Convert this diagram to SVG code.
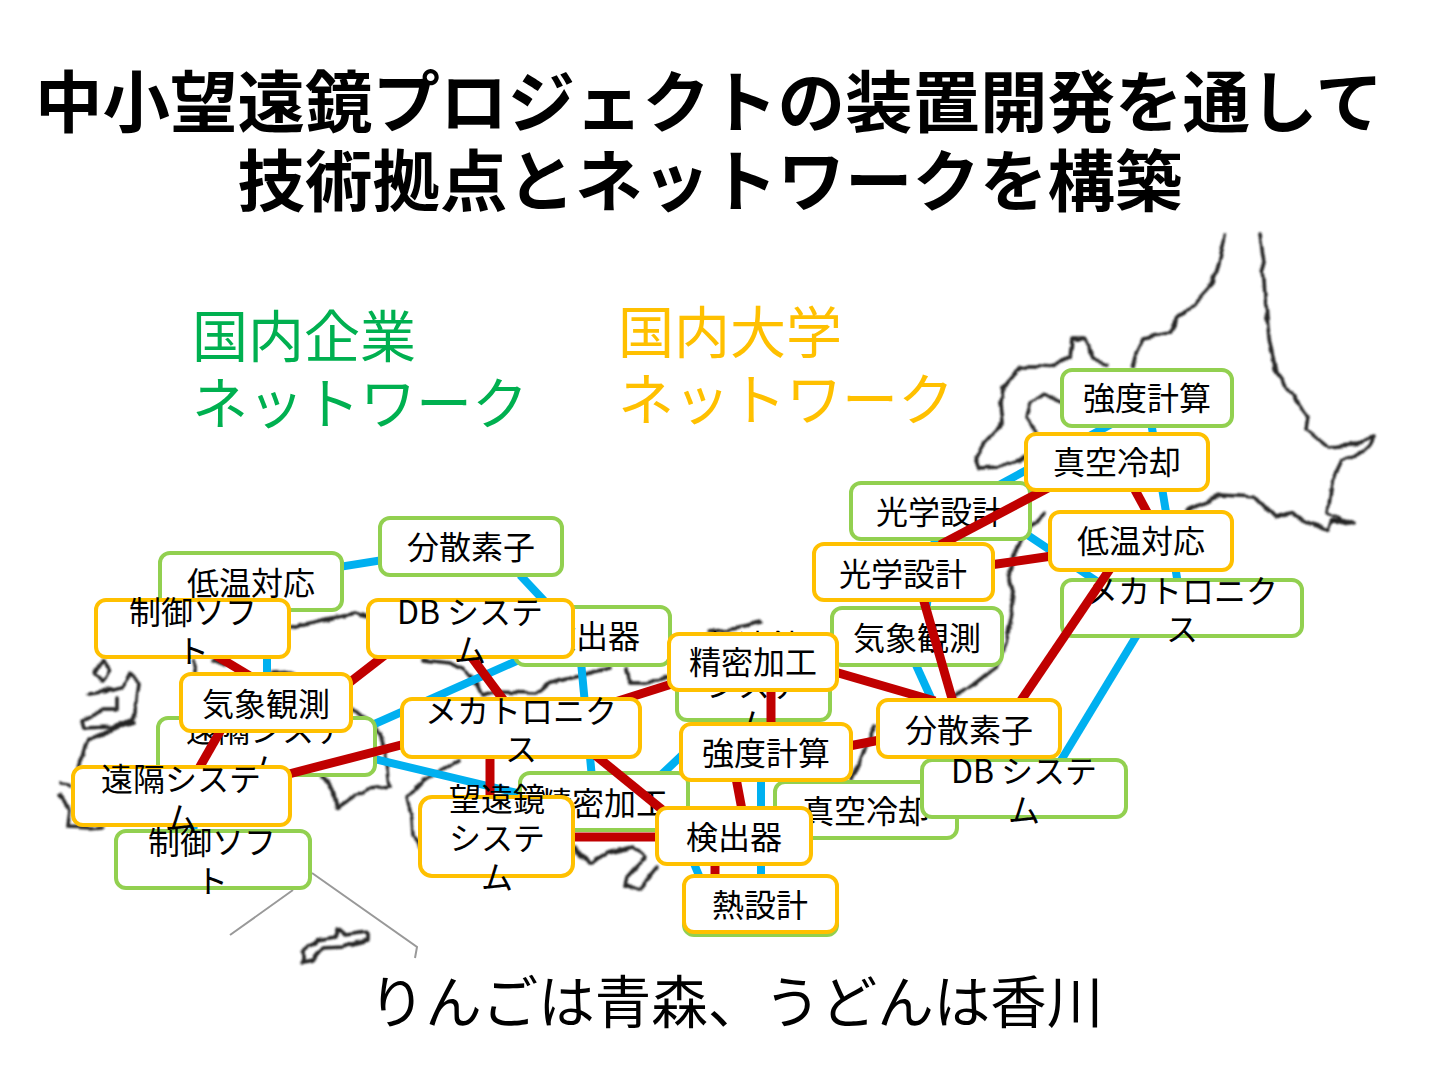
<svg xmlns="http://www.w3.org/2000/svg" width="1440" height="1080" viewBox="0 0 1440 1080">
<defs><filter id="soft" filterUnits="userSpaceOnUse" x="0" y="200" width="1440" height="800"><feTurbulence type="fractalNoise" baseFrequency="0.06" numOctaves="2" seed="7" result="n"/><feDisplacementMap in="SourceGraphic" in2="n" scale="7" xChannelSelector="R" yChannelSelector="G"/><feGaussianBlur stdDeviation="0.9"/></filter></defs>
<style>
text{font-family:"Noto Sans CJK JP","Noto Sans",sans-serif;text-anchor:middle;fill:#000}
.title{font-size:67.5px;font-weight:700}
.big{font-size:56px}
.low{font-size:56.5px}
.g{fill:#00b050;text-anchor:start}
.o{fill:#ffc000;text-anchor:start}
.n{font-size:32px}
.bg rect{fill:#fff;stroke:#92d050;stroke-width:4}
.og rect{fill:#fff;stroke:#ffc000;stroke-width:4}
#map path{fill:none;stroke:#222;stroke-width:3.5;stroke-linejoin:round;stroke-linecap:round}
.blue line{stroke:#00b0f0;stroke-width:8}
.red line{stroke:#c00000;stroke-width:9}
</style>
<rect width="1440" height="1080" fill="#fff"/>
<g id="map" filter="url(#soft)">
<path d="M1225 235L1219 263L1213 283L1198 300L1179 317L1169 333L1144 338L1137 353L1133 367"/>
<path d="M1106 365L1095 360L1085 338L1072 338L1070 358L1045 367L1020 367L1003 387L1001 403L1003 423L984 443L976 457L980 468L999 467L1026 458"/>
<path d="M1064 403L1045 395L1030 403L1026 417L1037 433"/>
<path d="M1259 235L1263 263L1265 297L1269 337L1276 373L1294 397L1309 417L1307 430L1328 447L1351 445L1374 437L1370 447L1343 460L1332 483L1328 513L1353 525L1332 520L1328 530L1305 520L1290 513L1275 517L1255 497L1221 495L1187 510"/>
<path d="M1045 513L1030 527L1014 553L1008 580L1014 603L1006 643L996 667L969 688L953 697"/>
<path d="M875 727L863 753L851 780"/>
<path d="M708 632L740 628L761 623"/>
<path d="M103 660L95 673L103 683L110 670Z"/>
<path d="M87 693L110 690L123 687L130 673L140 683L137 707L132 720L110 727L85 728L83 720L103 710L117 710L117 698"/>
<path d="M133 723L110 730L88 740L80 760L78 770"/>
<path d="M60 782L70 787M60 795L70 810L68 827L90 828L103 827"/>
<path d="M291 627L337 617L356 613L368 617"/>
<path d="M194 660L194 673M213 660L225 665M273 673L293 672"/>
<path d="M423 660L450 663L463 670L477 685L482 695L493 692L537 693L550 682L580 675L610 668M627 670L630 683L647 683L669 675"/>
<path d="M353 708L365 718L380 733L385 750L388 770L390 787L370 790L353 797L337 808L333 790L323 777"/>
<path d="M457 762L423 780L407 797L412 820L413 837L420 847"/>
<path d="M573 847L590 863L607 853L633 847L645 857L627 877L625 887L640 888L657 867"/>
<path d="M302 962L302 952L317 940L337 937L337 928L345 935L368 932L368 940L343 947L323 948L313 960Z"/>
</g>
<g id="inset-lines"><path d="M230 935L293 890M312 873L417 947L415 958" fill="none" stroke="#999" stroke-width="2"/></g>
<g id="labels">
<text class="title" x="709" y="127">中小望遠鏡プロジェクトの装置開発を通して</text>
<text class="title" x="710" y="206">技術拠点とネットワークを構築</text>
<text class="big g" x="192" y="357">国内企業</text>
<text class="big g" x="192" y="424">ネットワーク</text>
<text class="big o" x="618" y="353">国内大学</text>
<text class="big o" x="618" y="420">ネットワーク</text>
<text class="low" x="736" y="1023">りんごは青森、うどんは香川</text>
</g>
<g id="connectors-blue" class="blue">
<line x1="251" y1="581" x2="471" y2="546"/>
<line x1="520" y1="575" x2="550" y2="607"/>
<line x1="267" y1="610" x2="267" y2="718"/>
<line x1="530" y1="655" x2="370" y2="726"/>
<line x1="370" y1="758" x2="530" y2="796"/>
<line x1="581" y1="662" x2="592" y2="778"/>
<line x1="660" y1="776" x2="754" y2="687"/>
<line x1="761" y1="720" x2="761" y2="880"/>
<line x1="680" y1="830" x2="700" y2="878"/>
<line x1="916" y1="665" x2="950" y2="740"/>
<line x1="1060" y1="762" x2="1140" y2="630"/>
<line x1="1147" y1="398" x2="1182" y2="608"/>
<line x1="1130" y1="414" x2="940" y2="517"/>
<line x1="1020" y1="530" x2="1110" y2="590"/>
<line x1="936" y1="530" x2="925" y2="620"/>
<line x1="198" y1="770" x2="193" y2="835"/>
</g>
<g id="green-nodes" class="bg">
<g id="g-kyodo"><rect x="1062" y="370" width="170" height="56" rx="10"/><text class="n" x="1147" y="410">強度計算</text></g>
<g id="g-kogaku"><rect x="851" y="483" width="179" height="56" rx="10"/><text class="n" x="940" y="524">光学設計</text></g>
<g id="g-bunsan"><rect x="380" y="518" width="182" height="57" rx="10"/><text class="n" x="471" y="559">分散素子</text></g>
<g id="g-teion"><rect x="160" y="553" width="182" height="57" rx="10"/><text class="n" x="251" y="595">低温対応</text></g>
<g id="g-meka"><rect x="1062" y="580" width="240" height="56" rx="10"/><text class="n" x="1182" y="603">メカトロニク</text><text class="n" x="1182" y="641">ス</text></g>
<g id="g-kenshutsu"><rect x="515" y="607" width="155" height="58" rx="10"/><text class="n" x="592" y="648">検出器</text></g>
<g id="g-kisho"><rect x="832" y="608" width="170" height="57" rx="10"/><text class="n" x="917" y="650">気象観測</text></g>
<g id="g-bouenkyo"><rect x="677" y="654" width="153" height="66" rx="10"/><text class="n" x="754" y="658">望遠鏡</text><text class="n" x="754" y="697">システ</text><text class="n" x="754" y="736">ム</text></g>
<g id="g-enkaku"><rect x="158" y="718" width="217" height="57" rx="10"/><text class="n" x="266" y="742">遠隔システ</text><text class="n" x="266" y="781">ム</text></g>
<g id="g-seimitsu"><rect x="520" y="773" width="168" height="57" rx="10"/><text class="n" x="604" y="815">精密加工</text></g>
<g id="g-shinku"><rect x="775" y="782" width="182" height="56" rx="10"/><text class="n" x="866" y="823">真空冷却</text></g>
<g id="g-db"><rect x="922" y="760" width="204" height="57" rx="10"/><text class="n" x="1024" y="783">DB システ</text><text class="n" x="1024" y="822">ム</text></g>
<g id="g-seigyo"><rect x="116" y="831" width="194" height="57" rx="10"/><text class="n" x="212" y="854">制御ソフ</text><text class="n" x="212" y="893">ト</text></g>
<g id="g-netsu"><rect x="684" y="880" width="153" height="55" rx="10"/><text class="n" x="760" y="917">熱設計</text></g>
</g>
<g id="connectors-red" class="red">
<line x1="215" y1="655" x2="250" y2="676"/>
<line x1="385" y1="655" x2="345" y2="686"/>
<line x1="470" y1="655" x2="505" y2="702"/>
<line x1="675" y1="683" x2="615" y2="702"/>
<line x1="222" y1="728" x2="198" y2="770"/>
<line x1="405" y1="744" x2="285" y2="775"/>
<line x1="490" y1="755" x2="490" y2="800"/>
<line x1="595" y1="755" x2="665" y2="812"/>
<line x1="570" y1="837" x2="660" y2="837"/>
<line x1="771" y1="688" x2="771" y2="726"/>
<line x1="835" y1="672" x2="935" y2="701"/>
<line x1="849" y1="746" x2="880" y2="740"/>
<line x1="736" y1="778" x2="742" y2="810"/>
<line x1="715" y1="862" x2="715" y2="878"/>
<line x1="923" y1="598" x2="953" y2="702"/>
<line x1="990" y1="565" x2="1052" y2="556"/>
<line x1="940" y1="545" x2="1048" y2="488"/>
<line x1="1135" y1="490" x2="1148" y2="514"/>
<line x1="1112" y1="566" x2="1020" y2="702"/>
</g>
<g id="orange-nodes" class="og">
<g id="o-shinku"><rect x="1026" y="434" width="182" height="56" rx="10"/><text class="n" x="1117" y="474">真空冷却</text></g>
<g id="o-teion"><rect x="1050" y="512" width="182" height="58" rx="10"/><text class="n" x="1141" y="553">低温対応</text></g>
<g id="o-kogaku"><rect x="814" y="544" width="179" height="56" rx="10"/><text class="n" x="903" y="586">光学設計</text></g>
<g id="o-seigyo"><rect x="96" y="600" width="193" height="57" rx="10"/><text class="n" x="193" y="624">制御ソフ</text><text class="n" x="193" y="663">ト</text></g>
<g id="o-db"><rect x="368" y="600" width="205" height="57" rx="10"/><text class="n" x="470" y="624">DB システ</text><text class="n" x="470" y="662">ム</text></g>
<g id="o-seimitsu"><rect x="669" y="634" width="168" height="56" rx="10"/><text class="n" x="753" y="674">精密加工</text></g>
<g id="o-kisho"><rect x="181" y="674" width="170" height="57" rx="10"/><text class="n" x="266" y="716">気象観測</text></g>
<g id="o-meka"><rect x="402" y="699" width="238" height="58" rx="10"/><text class="n" x="521" y="723">メカトロニク</text><text class="n" x="521" y="761">ス</text></g>
<g id="o-bunsan"><rect x="878" y="700" width="182" height="57" rx="10"/><text class="n" x="969" y="742">分散素子</text></g>
<g id="o-kyodo"><rect x="681" y="724" width="170" height="56" rx="10"/><text class="n" x="766" y="765">強度計算</text></g>
<g id="o-enkaku"><rect x="73" y="767" width="217" height="58" rx="10"/><text class="n" x="181" y="791">遠隔システ</text><text class="n" x="181" y="830">ム</text></g>
<g id="o-bouenkyo"><rect x="420" y="797" width="153" height="79" rx="12"/><text class="n" x="497" y="811">望遠鏡</text><text class="n" x="497" y="850">システ</text><text class="n" x="497" y="889">ム</text></g>
<g id="o-kenshutsu"><rect x="657" y="808" width="154" height="56" rx="10"/><text class="n" x="734" y="849">検出器</text></g>
<g id="o-netsu"><rect x="684" y="876" width="153" height="56" rx="10"/><text class="n" x="760" y="917">熱設計</text></g>
</g>
</svg>
